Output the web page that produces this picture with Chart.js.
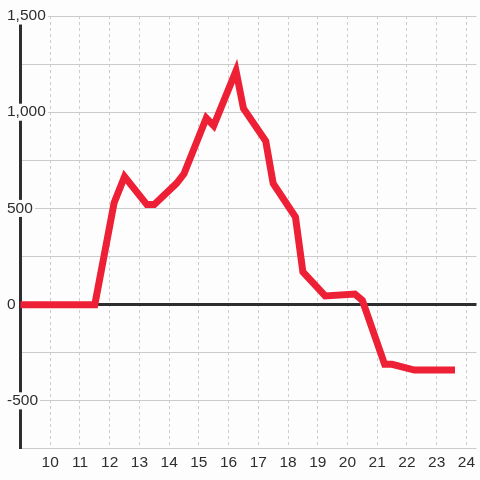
<!DOCTYPE html>
<html>
<head>
<meta charset="utf-8">
<script src="https://cdn.jsdelivr.net/npm/chart.js@4/dist/chart.umd.min.js"></script>
<style>
  html, body { margin: 0; padding: 0; background: #fdfdfd; }
  #wrap { width: 480px; height: 480px; }
</style>
</head>
<body>
<div id="wrap"><canvas id="chart"></canvas></div>
<script>
// hour of day and value
const hours = [9, 11.5, 12.15, 12.5, 13.25, 13.5, 14.25, 14.5, 15.25, 15.5, 16.25, 16.5, 17.25, 17.5, 18.25, 18.5, 19.25, 20.25, 20.5, 21.25, 21.5, 22.25, 23.5];
const values = [0, 0, 530, 665, 520, 520, 630, 680, 970, 930, 1215, 1020, 850, 630, 455, 170, 45, 55, 22, -310, -310, -340, -340];

const xTicks = [10, 11, 12, 13, 14, 15, 16, 17, 18, 19, 20, 21, 22, 23, 24];
const yLabelStep = 500;

const bg = '#fdfdfd';
const ink = '#2e2e2e';
const grid = '#cccccc';
const red = '#ee2036';
const font = { family: "'Liberation Sans', Arial, sans-serif", size: 15.5, lineHeight: 1.1 };

document.addEventListener('DOMContentLoaded', function() {
  const ctx = document.getElementById('chart');
  new Chart(ctx, {
    type: 'line',
    data: {
      datasets: [{
        data: hours.map((h, i) => ({ x: h, y: values[i] })),
        borderColor: red,
        borderWidth: 7,
        borderCapStyle: 'square',
        borderJoinStyle: 'miter',
        pointRadius: 0,
        tension: 0,
        fill: false
      }]
    },
    options: {
      responsive: true,
      maintainAspectRatio: false,
      animation: false,
      layout: { padding: { top: 16, bottom: 4, right: 0, left: 0 } },
      plugins: {
        legend: { display: false },
        tooltip: { enabled: false }
      },
      scales: {
        x: {
          type: 'linear',
          min: 9,
          max: 24.34,
          afterBuildTicks: s => { s.ticks = xTicks.map(v => ({ value: v })); },
          border: { display: false, dash: [3, 3] },
          grid: {
            color: grid,
            lineWidth: 1,
            drawTicks: false
          },
          ticks: {
            color: ink,
            font: font,
            padding: 5,
            maxRotation: 0,
            autoSkip: false
          }
        },
        y: {
          min: -750,
          max: 1500,
          afterFit: s => { s.width = 20.5; },
          border: { display: true, color: ink, width: 3 },
          grid: {
            drawTicks: false,
            color: c => (c.tick && c.tick.value === 0) ? ink : grid,
            lineWidth: c => (c.tick && c.tick.value === 0) ? 3 : 1
          },
          ticks: {
            stepSize: 250,
            mirror: true,
            padding: -13.5,
            color: ink,
            font: font,
            showLabelBackdrop: true,
            backdropColor: bg,
            backdropPadding: { top: 0, bottom: 0, left: 1, right: 2 },
            callback: v => (v % yLabelStep === 0) ? v.toLocaleString('en-US') : ''
          }
        }
      }
    }
  });
});
</script>
</body>
</html>
